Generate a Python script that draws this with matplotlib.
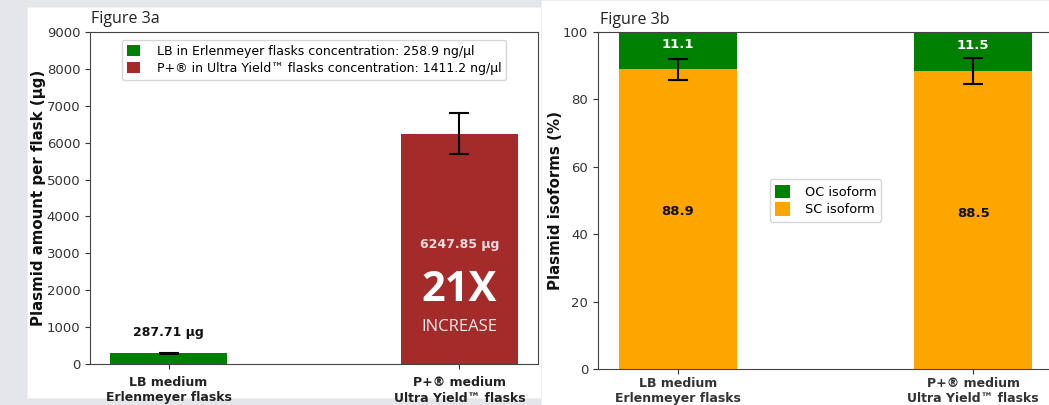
import matplotlib
matplotlib.use("Agg")
import matplotlib.pyplot as plt
from matplotlib.patches import Rectangle

# ---- data ----
categories = ["LB medium\nErlenmeyer flasks", "P+\u00ae medium\nUltra Yield\u2122 flasks"]
amount = [287.71, 6247.85]
amount_err = [15, 550]
amount_labels = ["287.71 \u00b5g", "6247.85 \u00b5g"]
legend_a = ["LB in Erlenmeyer flasks concentration: 258.9 ng/\u00b5l",
            "P+\u00ae in Ultra Yield\u2122 flasks concentration: 1411.2 ng/\u00b5l"]
sc_iso = [88.9, 88.5]
oc_iso = [11.1, 11.5]
sc_err = [3.1, 3.9]
yticks_a = list(range(0, 9001, 1000))
yticks_b = list(range(0, 101, 20))

W, H = 1049, 405
fig = plt.figure(figsize=(W / 100, H / 100), dpi=100, facecolor="#e5e6eb")

def px_rect(x0, y0, x1, y1):
    return (x0 / W, 1 - y1 / H, (x1 - x0) / W, (y1 - y0) / H)

for (x0, y0, x1, y1) in [(27, 7, 541, 398), (541, 0, 1049, 405)]:
    l, b, w, h = px_rect(x0, y0, x1, y1)
    fig.patches.append(Rectangle((l, b), w, h, transform=fig.transFigure,
                                 facecolor="white", edgecolor="#eeeeee", lw=0.6, zorder=-10))

spine_c = "#444444"
tick_c = "#333333"

# ---- Figure 3a ----
axA = fig.add_axes(px_rect(90, 32, 538, 364))
axA.set_facecolor("none")
x = [0, 1]
colors = ["green", "brown"]
for i in range(2):
    axA.bar(x[i], amount[i], width=0.4, color=colors[i], label=legend_a[i],
            yerr=amount_err[i], capsize=7, error_kw=dict(ecolor="black", elinewidth=1.5, capthick=1.5))
axA.set_ylim(0, 9000)
axA.set_yticks(yticks_a)
axA.set_xticks(x)
axA.set_xticklabels(categories, fontweight="bold", fontsize=9)
axA.tick_params(axis="y", labelsize=9.5, colors=tick_c)
axA.tick_params(axis="x", colors=tick_c, pad=5.5)
for lbl in axA.get_xticklabels():
    lbl.set_color("#222222")
axA.set_ylabel("Plasmid amount per flask (\u00b5g)", fontweight="bold", fontsize=10.8, color="#111111")
axA.yaxis.set_label_coords(-0.098, 0.5)
for s in axA.spines.values():
    s.set_color(spine_c)
axA.legend(loc="upper center", fontsize=9, handlelength=1.1, handleheight=1.0,
           handletextpad=1.3, labelspacing=0.35, borderaxespad=0.6)

axA.text(0, 850, amount_labels[0], ha="center", va="center", fontsize=9, fontweight="bold", color="#111111")
axA.text(1, 3230, amount_labels[1], ha="center", va="center", fontsize=9, fontweight="bold", color="#f2dede")
axA.text(1, 1990, "21X", ha="center", va="center", fontsize=30, fontweight="bold",
         family="Open Sans", color="white")
axA.text(1, 990, "INCREASE", ha="center", va="center", fontsize=12, family="Open Sans", color="#f6eaea")
fig.text(91 / W, 1 - 19 / H, "Figure 3a", ha="left", va="center", fontsize=11.5,
         family="Open Sans", color="#222222")

# ---- Figure 3b ----
axB = fig.add_axes(px_rect(598, 32, 1053, 369))
axB.set_facecolor("none")
axB.bar(x, sc_iso, width=0.4, color="orange", label="SC isoform",
        yerr=sc_err, capsize=7.5, error_kw=dict(ecolor="black", elinewidth=1.5, capthick=1.5), zorder=2)
axB.bar(x, oc_iso, width=0.4, bottom=sc_iso, color="green", label="OC isoform", zorder=1)
axB.set_ylim(0, 100)
axB.set_yticks(yticks_b)
axB.set_xticks(x)
axB.set_xticklabels(categories, fontweight="bold", fontsize=9)
for lbl in axB.get_xticklabels():
    lbl.set_color("#222222")
axB.tick_params(axis="y", labelsize=9.5, colors=tick_c)
axB.tick_params(axis="x", colors=tick_c, pad=2.3)
axB.set_ylabel("Plasmid isoforms (%)", fontweight="bold", fontsize=10.8, color="#111111")
axB.yaxis.set_label_coords(-0.078, 0.5)
for s in axB.spines.values():
    s.set_color(spine_c)
h, l = axB.get_legend_handles_labels()
axB.legend(h[::-1], l[::-1], loc="center", fontsize=9.3, handlelength=1.2, handleheight=1.2,
           handletextpad=1.1, labelspacing=0.3)
oc_y = [96.4, 96.1]
sc_y = [46.6, 46.2]
for i in range(2):
    axB.text(x[i], oc_y[i], f"{oc_iso[i]:.1f}", ha="center", va="center", fontsize=9.5,
             fontweight="bold", color="white")
    axB.text(x[i], sc_y[i], f"{sc_iso[i]:.1f}", ha="center", va="center", fontsize=9.5,
             fontweight="bold", color="#111111")
fig.text(600 / W, 1 - 20 / H, "Figure 3b", ha="left", va="center", fontsize=11.5,
         family="Open Sans", color="#222222")

fig.savefig("out.png", dpi=100, facecolor=fig.get_facecolor())
